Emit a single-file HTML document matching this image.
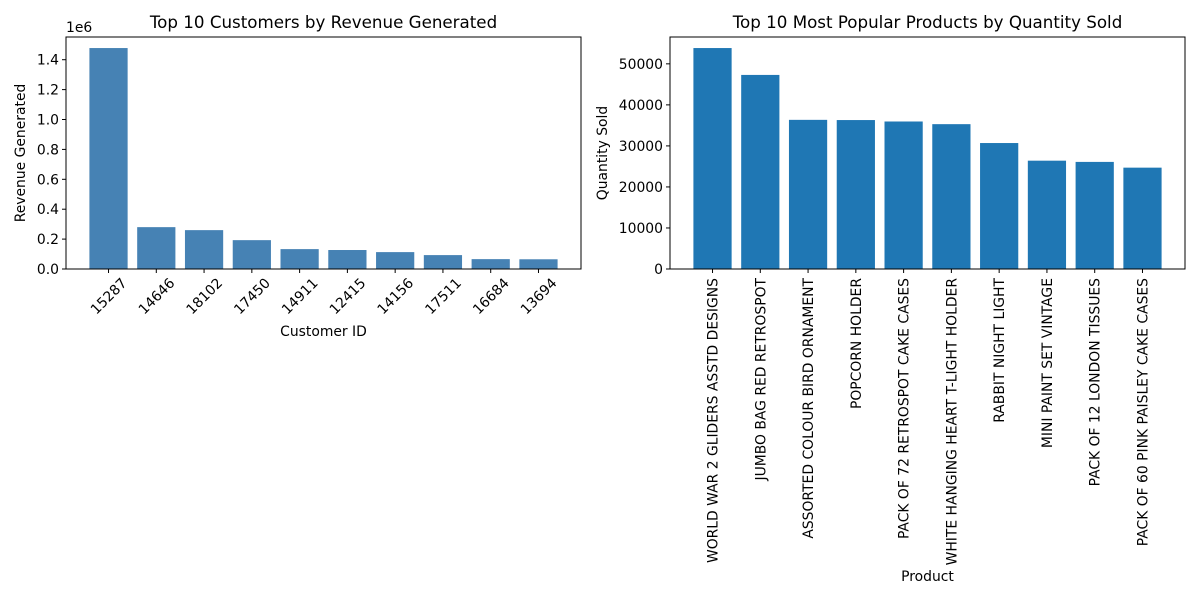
<!DOCTYPE html>
<html><head><meta charset="utf-8"><style>
body{margin:0;background:#fff;font-family:"Liberation Sans","DejaVu Sans",sans-serif;}
svg text{font-family:"DejaVu Sans","Liberation Sans",sans-serif;fill:#000;}
</style></head><body>
<svg id="c" width="1200" height="600"></svg>
<script>
const custIds=["15287","14646","18102","17450","14911","12415","14156","17511","16684","13694"];
const custRevenue=[1478000,280000,260000,193000,133000,127000,113000,93000,66000,65000];
const leftTicks=[0,0.2,0.4,0.6,0.8,1.0,1.2,1.4];
const products=["WORLD WAR 2 GLIDERS ASSTD DESIGNS","JUMBO BAG RED RETROSPOT","ASSORTED COLOUR BIRD ORNAMENT","POPCORN HOLDER","PACK OF 72 RETROSPOT CAKE CASES","WHITE HANGING HEART T-LIGHT HOLDER","RABBIT NIGHT LIGHT","MINI PAINT SET VINTAGE","PACK OF 12 LONDON TISSUES","PACK OF 60 PINK PAISLEY CAKE CASES"];
const productQty=[53850,47300,36350,36300,35950,35300,30700,26400,26100,24700];
const rightTicks=[0,10000,20000,30000,40000,50000];
const NS="http://www.w3.org/2000/svg";
const svg=document.getElementById('c');
function mk(t,a,p){const e=document.createElementNS(NS,t);for(const k in a)e.setAttribute(k,a[k]);(p||svg).appendChild(e);return e;}
function panel(x0,x1,y0,y1,cats,vals,ticks,tickScale,color,title,xlab,ylab,rot,prefix,ylx){
  const n=cats.length,lo=-0.4-0.49,hi=n-1+0.4+0.49;
  const max=Math.max(...vals)*1.05;
  const sx=v=>x0+(v-lo)/(hi-lo)*(x1-x0);
  const sy=v=>y1-v/max*(y1-y0);
  const g=mk('g',{});
  
  
  vals.forEach((v,i)=>{
    const r=mk('rect',{x:sx(i-0.4),y:sy(v),width:sx(i+0.4)-sx(i-0.4),height:y1-sy(v),fill:color},g);
    
    
  });
  mk('rect',{x:x0,y:y0,width:x1-x0,height:y1-y0,fill:'none',stroke:'#000','stroke-width':1},g);
  ticks.forEach(t=>{
    const y=sy(t*tickScale);
    mk('line',{x1:x0-4,x2:x0,y1:y,y2:y,stroke:'#000'},g);
    const tx=mk('text',{x:x0-7,y:y+5,'text-anchor':'end','font-size':13.9},g);
    tx.textContent=tickScale===1?t:t.toFixed(1);
    
    
  });
  cats.forEach((c,i)=>{
    const x=sx(i);
    mk('line',{x1:x,x2:x,y1:y1,y2:y1+4,stroke:'#000'},g);
    let tx;
    if(rot===45){tx=mk('text',{x:x,y:y1+32,'text-anchor':'middle','font-size':13.9,transform:`rotate(-45 ${x} ${y1+27})`},g);}
    else{tx=mk('text',{x:x+5,y:y1+9,'text-anchor':'end','font-size':13.9,transform:`rotate(-90 ${x+5} ${y1+9})`},g);}
    tx.textContent=c;
    
    
  });
  const tt=mk('text',{x:(x0+x1)/2,y:y0-9,'text-anchor':'middle','font-size':16.7},g);
  tt.textContent=title;
  
  
  const xl=mk('text',{x:(x0+x1)/2,y:rot===45?336:581,'text-anchor':'middle','font-size':13.9},g);
  xl.textContent=xlab;
  
  
  const yl=mk('text',{x:ylx,y:(y0+y1)/2,'text-anchor':'middle','font-size':13.9,transform:`rotate(-90 ${ylx} ${(y0+y1)/2})`},g);
  yl.textContent=ylab;
  
  
}
panel(66,581,37,269,custIds,custRevenue,leftTicks,1e6,'#4682b4','Top 10 Customers by Revenue Generated','Customer ID','Revenue Generated',45,'customers',25);
const off=mk('text',{x:66,y:32,'font-size':13.9});
off.textContent='1e6';


panel(670,1185,37,269,products,productQty,rightTicks,1,'#1f77b4','Top 10 Most Popular Products by Quantity Sold','Product','Quantity Sold',90,'products',607);
</script>
</body></html>
